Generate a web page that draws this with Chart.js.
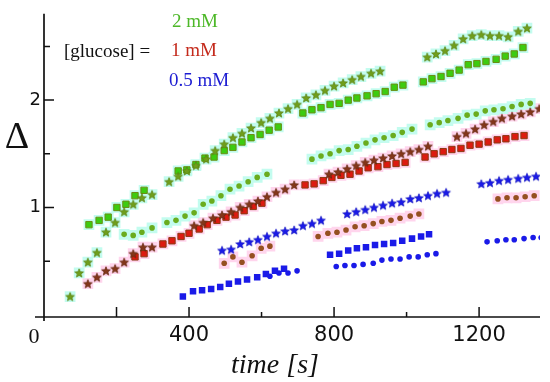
<!DOCTYPE html>
<html><head><meta charset="utf-8">
<script src="https://cdn.jsdelivr.net/npm/chart.js@4"></script>
<style>html,body{margin:0;padding:0;background:#fff;overflow:hidden}</style>
</head><body>
<canvas id="c" width="550" height="382"></canvas>
<script>
// ---- data: time [s] and Δ for each [glucose] series ----
const gStarT = [72,97,121,146,171,196,221,246,270,298, 345,370,394,419,447,472,497,521,546,571,599,623,648,673,698,723,750,775,800,825,850,874,902,927, 1057,1081,1106,1131,1156,1181,1206,1230,1255,1280,1308,1332];
const gStarD = [0.17,0.39,0.49,0.58,0.77,0.86,0.96,1.03,1.09,1.12, 1.24,1.29,1.34,1.39,1.45,1.53,1.59,1.65,1.69,1.74,1.79,1.83,1.88,1.92,1.96,2.02,2.05,2.09,2.13,2.16,2.19,2.22,2.25,2.27, 2.40,2.43,2.46,2.51,2.57,2.60,2.61,2.60,2.60,2.59,2.64,2.67];
const gSqT = [124,152,177,201,226,251,276, 370,394,419,444,469,497,521,546,571,596,621,646, 714,739,764,789,814,839,863,891,916,941,966,990, 1046,1070,1095,1120,1145,1170,1194,1219,1247,1272,1297,1321];
const gSqD = [0.84,0.88,0.91,1.00,1.03,1.11,1.16, 1.34,1.35,1.40,1.46,1.47,1.53,1.56,1.61,1.65,1.68,1.72,1.75, 1.88,1.91,1.93,1.96,1.97,2.00,2.02,2.04,2.06,2.08,2.12,2.14, 2.17,2.20,2.22,2.25,2.28,2.33,2.34,2.36,2.38,2.41,2.43,2.49];
const gCirT = [221,246,270,298, 339,364,389,414,439,463,488,513,538,563,588,615, 739,764,789,814,839,863,888,913,938,963,988,1015, 1065,1090,1114,1142,1167,1192,1217,1241,1266,1291,1316,1341];
const gCirD = [0.75,0.74,0.77,0.81, 0.86,0.88,0.92,0.95,1.03,1.06,1.11,1.17,1.20,1.24,1.28,1.31, 1.45,1.48,1.50,1.53,1.54,1.57,1.60,1.63,1.65,1.67,1.70,1.73, 1.77,1.79,1.81,1.83,1.86,1.87,1.90,1.91,1.92,1.94,1.96,1.97];

const rStarT = [121,146,171,196,221,246,273,298, 414,439,466,491,516,541,566,590,615,640,665,690, 786,811,836,861,886,910,935,960,985,1010,1034,1059, 1139,1164,1189,1214,1239,1263,1291,1316,1341,1366];
const rStarD = [0.29,0.35,0.41,0.43,0.49,0.57,0.63,0.63, 0.83,0.86,0.90,0.93,0.96,1.00,1.03,1.06,1.10,1.14,1.17,1.21, 1.31,1.33,1.36,1.39,1.42,1.44,1.46,1.48,1.50,1.52,1.54,1.57, 1.66,1.69,1.73,1.77,1.80,1.83,1.85,1.87,1.89,1.92];
const rSqT = [251,276, 328,353,378,400,428,450,477,502,527,552,577,601, 720,745,770,794,819,844,869,894,921,946,971,996, 1051,1076,1101,1125,1150,1175,1200,1225,1250,1274,1299,1324];
const rSqD = [0.54,0.57, 0.66,0.69,0.73,0.76,0.80,0.84,0.88,0.91,0.93,0.97,1.01,1.04, 1.21,1.22,1.25,1.28,1.30,1.31,1.34,1.37,1.38,1.40,1.41,1.42, 1.47,1.50,1.52,1.54,1.55,1.58,1.59,1.61,1.63,1.64,1.66,1.67];
const rCirT = [497,521,546,574,599,623, 756,783,808,833,858,883,908,932,957,982,1010,1034, 1252,1277,1302,1327,1352];
const rCirD = [0.48,0.54,0.49,0.55,0.62,0.64, 0.73,0.76,0.77,0.79,0.82,0.83,0.85,0.87,0.88,0.90,0.92,0.94, 1.08,1.09,1.09,1.10,1.11];

const bStarT = [491,516,541,566,590,615,640,665,690,714,739,764, 836,861,886,910,935,960,985,1010,1034,1059,1084,1109, 1206,1230,1255,1280,1308,1332,1357];
const bStarD = [0.60,0.61,0.66,0.68,0.70,0.73,0.76,0.78,0.79,0.83,0.85,0.88, 0.94,0.96,0.98,1.00,1.02,1.04,1.05,1.08,1.09,1.11,1.13,1.14, 1.22,1.23,1.25,1.26,1.27,1.28,1.29];
const bSqT = [383,411,436,461,486,510,535,560,588,612,637,662, 789,814,839,863,888,913,938,963,988,1015,1040,1062];
const bSqD = [0.17,0.22,0.23,0.24,0.26,0.29,0.31,0.33,0.35,0.38,0.41,0.43, 0.56,0.57,0.60,0.62,0.63,0.65,0.66,0.67,0.69,0.71,0.73,0.75];
const bCirT = [623,648,673,698, 806,830,855,880,908,932,957,982,1007,1032,1057,1081, 1222,1250,1274,1297,1324,1349,1371];
const bCirD = [0.36,0.39,0.39,0.41, 0.45,0.46,0.46,0.47,0.48,0.51,0.52,0.52,0.54,0.54,0.56,0.57, 0.68,0.69,0.70,0.70,0.71,0.72,0.72];

const xTickLabels = [0, 400, 800, 1200];
const yTickLabels = [1, 2];
const xMinorTicks = [200, 400, 600, 800, 1000, 1200];
const yMinorTicks = [0.5, 1, 1.5, 2, 2.5];
const legendLabels = ['2 mM', '1 mM', '0.5 mM'];
const legendPrefix = '[glucose] =';
const xTitle = 'time [s]';
const yTitle = 'Δ';

// ---- styling helpers ----
function pts(t, d) { return t.map((v, i) => ({x: v, y: d[i]})); }
function starImg(fill, stroke, R) {
  const s = Math.ceil(R * 2 + 2);
  const c = document.createElement('canvas'); c.width = s; c.height = s;
  const x = c.getContext('2d'); const cx = s / 2, cy = s / 2 + 0.4;
  x.beginPath();
  for (let i = 0; i < 10; i++) {
    const r = i % 2 ? R * 0.44 : R;
    const a = -Math.PI / 2 + i * Math.PI / 5;
    x.lineTo(cx + r * Math.cos(a), cy + r * Math.sin(a));
  }
  x.closePath(); x.fillStyle = fill; x.fill();
  x.strokeStyle = stroke; x.lineWidth = 0.7; x.stroke();
  return c;
}
const GREEN_HALO = '#c3fcef', RED_HALO = '#ffd5ed';
const datasets = [];
function addHalo(t, d, col) {
  datasets.push({data: pts(t, d), pointStyle: 'rect', pointRadius: 7.6, backgroundColor: col, borderWidth: 0, order: 5, showLine: false});
}
function addMarks(t, d, style, fill, border, r, bw, order) {
  datasets.push({data: pts(t, d), pointStyle: style, pointRadius: r, backgroundColor: fill, borderColor: border, borderWidth: bw, order: order, showLine: false});
}
[[gStarT, gStarD], [gSqT, gSqD], [gCirT, gCirD]].forEach(a => addHalo(a[0], a[1], GREEN_HALO));
[[rStarT, rStarD], [rSqT, rSqD], [rCirT, rCirD]].forEach(a => addHalo(a[0], a[1], RED_HALO));

addMarks(gStarT, gStarD, starImg('#6f9e1c', '#58800f', 4.6), '#6f9e1c', '#6f9e1c', 5, 0, 0);
addMarks(rStarT, rStarD, starImg('#83361a', '#62260f', 4.6), '#83361a', '#83361a', 5, 0, 0);
addMarks(bStarT, bStarD, starImg('#1a1ae8', '#1515c0', 4.6), '#1a1ae8', '#1a1ae8', 5, 0, 0);
addMarks(gSqT, gSqD, 'rect', '#3ccc10', '#6a8e14', 4.5, 1, 1);
addMarks(rSqT, rSqD, 'rect', '#dd1a10', '#8a3a14', 4.5, 1, 1);
addMarks(bSqT, bSqD, 'rect', '#1a1ae8', '#1a1ae8', 4.6, 0, 1);
addMarks(gCirT, gCirD, 'circle', '#6aac1e', '#6aac1e', 2.8, 0, 1);
addMarks(rCirT, rCirD, 'circle', '#955020', '#955020', 2.8, 0, 1);
addMarks(bCirT, bCirD, 'circle', '#1a1ae8', '#1a1ae8', 2.8, 0, 1);

const axisPlugin = {
  id: 'axisDeco',
  afterDraw(chart) {
    const ctx = chart.ctx, xs = chart.scales.x, ys = chart.scales.y, ca = chart.chartArea;
    const x0 = xs.getPixelForValue(0), y0 = ca.bottom;
    ctx.save();
    ctx.strokeStyle = '#111'; ctx.lineWidth = 1.7; ctx.lineCap = 'butt';
    ctx.beginPath();
    ctx.moveTo(x0 - 9, y0); ctx.lineTo(ca.right, y0);
    ctx.moveTo(x0, ca.top); ctx.lineTo(x0, y0 + 4);
    ctx.stroke();
    ctx.lineWidth = 1.5;
    ctx.beginPath();
    xMinorTicks.forEach(v => {
      const px = xs.getPixelForValue(v); const len = (v % 400 === 0 || v === 200) ? 10 : 5;
      ctx.moveTo(px, y0); ctx.lineTo(px, y0 - len);
    });
    yMinorTicks.forEach(v => {
      const py = ys.getPixelForValue(v); const len = Number.isInteger(v) ? 10 : 6;
      ctx.moveTo(x0, py); ctx.lineTo(x0 + len, py);
    });
    ctx.stroke();
    // serif "0" tick label
    ctx.fillStyle = '#111';
    ctx.font = '22px "Liberation Serif"';
    ctx.textAlign = 'center'; ctx.textBaseline = 'alphabetic';
    ctx.fillText(String(xTickLabels[0]), x0 - 10, y0 + 26);
    // axis titles
    ctx.font = 'italic 28px "Liberation Serif"';
    ctx.fillText(xTitle, 275, 373);
    ctx.font = '38px "Liberation Serif"';
    ctx.textBaseline = 'middle';
    ctx.fillText(yTitle, 17, 138);
    // legend
    ctx.font = '19px "Liberation Serif"';
    ctx.textAlign = 'left';
    ctx.fillStyle = '#111'; ctx.fillText(legendPrefix, 64, 52);
    ctx.fillStyle = '#4db828'; ctx.fillText(legendLabels[0], 172, 22);
    ctx.fillStyle = '#c42a1c'; ctx.fillText(legendLabels[1], 171, 51);
    ctx.fillStyle = '#1c1cd2'; ctx.fillText(legendLabels[2], 169, 81);
    ctx.restore();
  }
};

new Chart(document.getElementById('c'), {
  type: 'scatter',
  data: {datasets},
  options: {
    responsive: false, animation: false, devicePixelRatio: 1,
    layout: {padding: {top: 12, right: 10, bottom: 0, left: 0}},
    plugins: {legend: {display: false}, tooltip: {enabled: false}},
    scales: {
      x: {
        type: 'linear', min: 0, max: 1368,
        afterFit: s => { s.height = 65; },
        afterBuildTicks: s => { s.ticks = xTickLabels.map(v => ({value: v})); },
        grid: {display: false, drawTicks: false}, border: {display: false},
        ticks: {font: {family: 'DejaVu Sans', size: 21}, color: '#111', padding: 6, maxRotation: 0, autoSkip: false,
                callback: v => (v === 0 ? '' : String(v))}
      },
      y: {
        type: 'linear', min: -0.02, max: 2.804,
        afterFit: s => { s.width = 44; },
        afterBuildTicks: s => { s.ticks = yTickLabels.map(v => ({value: v})); },
        grid: {display: false, drawTicks: false}, border: {display: false},
        ticks: {font: {family: 'DejaVu Sans', size: 18}, color: '#111', padding: 3}
      }
    }
  },
  plugins: [axisPlugin]
});
</script>
</body></html>
